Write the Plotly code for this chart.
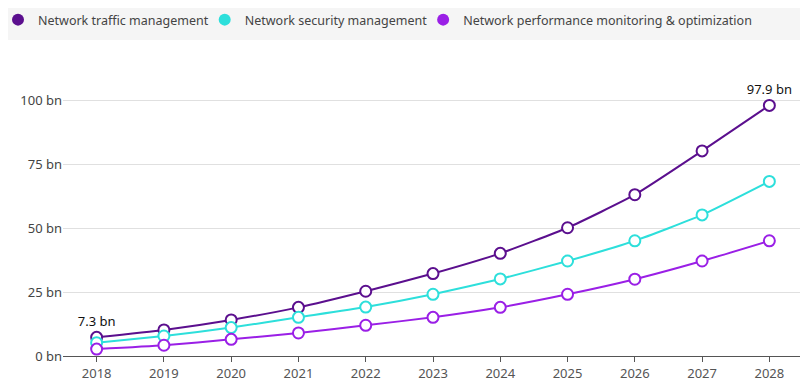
import plotly.graph_objects as go

years = ["2018", "2019", "2020", "2021", "2022", "2023", "2024", "2025", "2026", "2027", "2028"]
traffic = [7.3, 10.2, 14.1, 19.0, 25.3, 32.2, 40.1, 50.1, 63.0, 80.1, 97.9]
security = [5.2, 7.8, 11.1, 15.1, 19.1, 24.1, 30.1, 37.1, 45.0, 55.1, 68.2]
performance = [2.7, 4.2, 6.5, 9.0, 12.0, 15.1, 19.0, 24.1, 30.0, 37.1, 45.0]
series_names = ["Network traffic management", "Network security management",
                "Network performance monitoring & optimization"]
colors = ["#5b0f8e", "#2ddfdb", "#9a1fe6"]
y_ticks = [0, 25, 50, 75, 100]
y_tick_labels = ["0 bn", "25 bn", "50 bn", "75 bn", "100 bn"]

FONT = "Noto Sans"
fig = go.Figure()

for name, vals, col in zip(series_names, [traffic, security, performance], colors):
    labels = [""] * len(vals)
    if name == series_names[0]:
        labels[0] = f"{vals[0]} bn"
        labels[-1] = f"{vals[-1]} bn"
    fig.add_trace(go.Scatter(
        x=years, y=vals, name=name, mode="lines+markers+text",
        text=labels, textposition="top center",
        textfont=dict(family=FONT, size=13, color="#111"),
        line=dict(color=col, width=2, shape="spline", smoothing=0.5),
        marker=dict(size=11, color="white", line=dict(color=col, width=2)),
        showlegend=False, cliponaxis=False,
    ))
    # legend entry (dot only)
    fig.add_trace(go.Scatter(
        x=[None], y=[None], name=name, mode="markers",
        marker=dict(size=10, color=col), showlegend=True,
    ))

# page has an 8px body margin; figure coordinates = page coordinates - 8
W, H = 800, 382
L, R, T, B = 55, 5, 52, 34
pw, ph = W - L - R, H - T - B
fig.add_shape(type="rect", xref="paper", yref="paper",
              x0=-L / pw, x1=(W - L) / pw,
              y0=(H - B - 32) / ph, y1=(H - B) / ph,
              fillcolor="#f5f5f5", line=dict(width=0), layer="below")

fig.update_layout(
    width=W, height=H,
    margin=dict(l=L, r=R, t=T, b=B, autoexpand=False),
    paper_bgcolor="white", plot_bgcolor="white",
    font=dict(family=FONT, size=13, color="#444"),
    legend=dict(orientation="h", xref="paper", yref="paper",
                x=(-1 - L) / pw, y=(H - B - 12) / ph, xanchor="left", yanchor="middle",
                font=dict(family=FONT, size=12.5, color="#444"),
                bgcolor="rgba(0,0,0,0)", itemsizing="constant", indentation=-9,
                tracegroupgap=0, itemwidth=30),
    xaxis=dict(type="category", range=[-0.5, 10.5], showgrid=False,
               showline=True, linecolor="#555", linewidth=1,
               ticks="outside", ticklen=5, tickcolor="#555",
               tickfont=dict(family=FONT, size=13, color="#555")),
    yaxis=dict(range=[0, ph / 2.56], tickvals=y_ticks, ticktext=y_tick_labels,
               showgrid=True, gridcolor="#e0e0e0", gridwidth=1,
               zeroline=False, showline=False, ticks="", ticklen=0,
               tickfont=dict(family=FONT, size=13, color="#444")),
)

fig.write_html("out.html")
